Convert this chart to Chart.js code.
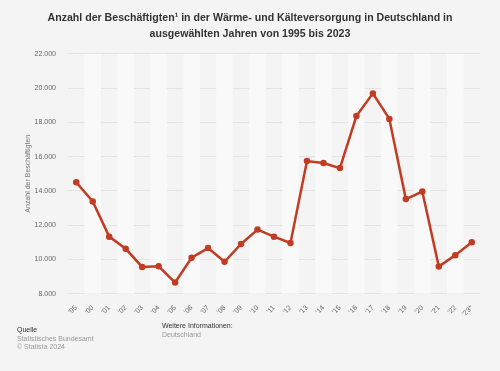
<!DOCTYPE html>
<html>
<head>
<meta charset="utf-8">
<script src="https://cdn.jsdelivr.net/npm/chart.js@4/dist/chart.umd.min.js"></script>
<style>
    body { margin: 0; background: #f4f4f4; font-family: "Liberation Sans", Arial, sans-serif; }
    #wrap { position: relative; width: 500px; height: 371px; }
    .foot { position: absolute; font-size: 7px; line-height: 8.5px; color: #999; }
    .foot b { font-weight: normal; color: #333; }
</style>
</head>
<body>
<div id="wrap">
    <canvas id="myChart" width="500" height="371"></canvas>
    <div class="foot" style="left:17px; top:326px;"><b>Quelle</b><br>Statistisches Bundesamt<br>© Statista 2024</div>
    <div class="foot" style="left:162px; top:322px;"><b>Weitere Informationen:</b><br>Deutschland</div>
</div>
<script>
const years = ["'95", "'00", "'01", "'02", "'03", "'04", "'05", "'06", "'07", "'08", "'09", "'10", "'11",
    "'12", "'13", "'14", "'15", "'16", "'17", "'18", "'19", "'20", "'21", "'22", "'23*"];
const employees = [14500, 13380, 11330, 10620, 9560, 9600, 8650, 10100, 10660, 9860, 10900, 11740, 11330,
    10960, 15740, 15630, 15330, 18370, 19690, 18200, 13520, 13960, 9580, 10250, 11000];
const yTicks = [8000, 10000, 12000, 14000, 16000, 18000, 20000, 22000];

// alternating column stripes behind the line
const stripes = {
    id: "stripes",
    beforeDatasetsDraw(chart) {
        const { ctx, chartArea, scales } = chart;
        const w = scales.x.width / years.length;
        ctx.save();
        years.forEach((y, i) => {
            if (i % 2 === 1) {
                ctx.fillStyle = "#f9f9f9";
                ctx.fillRect(scales.x.getPixelForValue(i) - w / 2, chartArea.top, w, chartArea.height);
            }
        });
        ctx.restore();
    },
};

const data = {
    labels: years,
    datasets: [
        {
            label: "Anzahl der Beschäftigten",
            data: employees,
            borderColor: "#c23b23",
            backgroundColor: "#c23b23",
            borderWidth: 2.5,
            pointRadius: 2,
            pointHoverRadius: 3,
            tension: 0,
        },
    ],
};

const config = {
    type: "line",
    data: data,
    plugins: [stripes],
    options: {
        responsive: false,
        animation: false,
        layout: { padding: { left: 20, right: 20, top: 0, bottom: 51 } },
        plugins: {
            legend: { display: false },
            tooltip: { enabled: false },
            title: {
                display: true,
                text: ["Anzahl der Beschäftigten¹ in der Wärme- und Kälteversorgung in Deutschland in",
                    "ausgewählten Jahren von 1995 bis 2023"],
                color: "#333",
                font: { size: 10.6, weight: "bold", family: "'Liberation Sans', Arial, sans-serif", lineHeight: 1.5 },
                padding: { top: 10, bottom: 12 },
            },
        },
        scales: {
            x: {
                offset: true,
                grid: { display: false },
                border: { display: false },
                ticks: {
                    color: "#666",
                    font: { size: 7 },
                    autoSkip: false,
                    maxRotation: 45,
                    minRotation: 45,
                    padding: 2,
                },
            },
            y: {
                min: 8000,
                max: 22000,
                afterBuildTicks(axis) {
                    axis.ticks = yTicks.map((v) => ({ value: v }));
                },
                afterFit(axis) {
                    axis.width = 48;
                },
                grid: { color: "#e3e3e3", drawTicks: false },
                border: { display: false },
                ticks: {
                    color: "#666",
                    font: { size: 7 },
                    padding: 12,
                    callback: (v) => v.toLocaleString("de-DE"),
                },
                title: {
                    display: true,
                    text: "Anzahl der Beschäftigten",
                    color: "#777",
                    font: { size: 7 },
                    padding: { top: 4, bottom: 4 },
                },
            },
        },
    },
};

document.addEventListener("DOMContentLoaded", function () {
    const ctx = document.getElementById("myChart").getContext("2d");
    const myChart = new Chart(ctx, config);
});
</script>
</body>
</html>
